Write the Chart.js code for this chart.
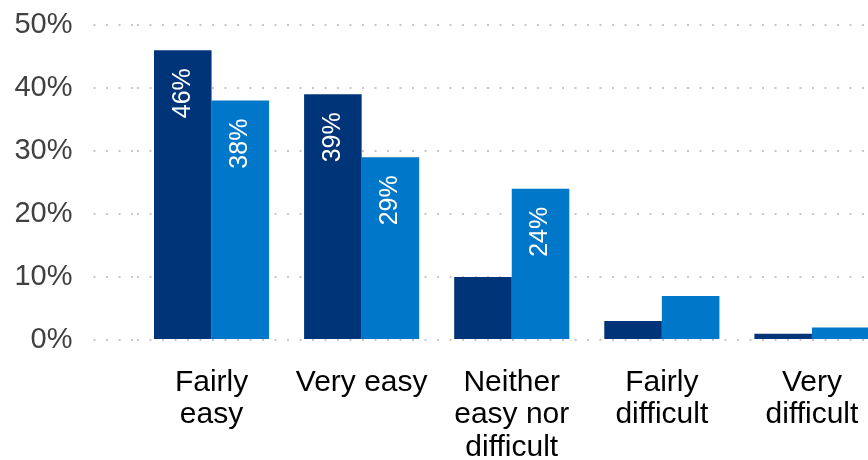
<!DOCTYPE html>
<html>
<head>
<meta charset="utf-8">
<script src="https://cdn.jsdelivr.net/npm/chart.js@4/dist/chart.umd.min.js"></script>
<style>
  html, body { margin: 0; padding: 0; background: #fff; overflow: hidden; }
  #wrap { width: 868px; height: 460px; overflow: hidden; }
</style>
</head>
<body>
<div id="wrap"><canvas id="chart" width="887" height="460"></canvas></div>
<script>
// categories and answers (percent)
const categorias = [["Fairly", "easy"], ["Very easy"], ["Neither", "easy nor", "difficult"], ["Fairly", "difficult"], ["Very", "difficult"]];
const serieOscura = [46, 39, 10, 3, 1];
const serieClara = [38, 29, 24, 7, 2];
const ticksY = [0, 10, 20, 30, 40, 50];

const colorOscuro = "#003478";
const colorClaro = "#0077c8";
const punteado = [2, 10.5];

// white rotated value labels near the top of the taller bars
const etiquetasBarras = {
  id: "etiquetasBarras",
  afterDatasetsDraw(chart) {
    const ctx = chart.ctx;
    ctx.save();
    ctx.fillStyle = "#ffffff";
    ctx.font = "25px 'Liberation Sans', Arial, sans-serif";
    ctx.textAlign = "right";
    ctx.textBaseline = "middle";
    chart.data.datasets.forEach((ds, i) => {
      chart.getDatasetMeta(i).data.forEach((bar, j) => {
        const v = ds.data[j];
        if (v < 20) return;
        ctx.save();
        ctx.translate(bar.x, bar.y + 18);
        ctx.rotate(-Math.PI / 2);
        ctx.fillText(v + "%", 0, 0);
        ctx.restore();
      });
    });
    ctx.restore();
  }
};

new Chart(document.getElementById("chart").getContext("2d"), {
  type: "bar",
  data: {
    labels: categorias,
    datasets: [
      { data: serieOscura, backgroundColor: colorOscuro },
      { data: serieClara, backgroundColor: colorClaro }
    ]
  },
  options: {
    responsive: false,
    animation: false,
    layout: { padding: { top: 25, left: 0, right: 0, bottom: 0 } },
    datasets: { bar: { barPercentage: 1, categoryPercentage: 0.767 } },
    plugins: { legend: { display: false }, tooltip: { enabled: false } },
    scales: {
      x: {
        grid: { display: false, drawTicks: false },
        border: { display: false },
        ticks: {
          color: "#000000",
          padding: 26,
          maxRotation: 0,
          autoSkip: false,
          font: { family: "'Liberation Sans', Arial, sans-serif", size: 30, lineHeight: 1.09 }
        },
        afterFit(scale) { scale.height = 120; }
      },
      y: {
        min: 0,
        max: 50,
        afterBuildTicks(scale) { scale.ticks = ticksY.map(v => ({ value: v })); },
        grid: {
          color: "#c8c8c8",
          lineWidth: 2,
          tickBorderDash: punteado,
          tickColor: "#c8c8c8",
          tickWidth: 2,
          tickLength: 43
        },
        border: { display: false, dash: punteado },
        ticks: {
          color: "#404040",
          padding: 21,
          font: { family: "'Liberation Sans', Arial, sans-serif", size: 29 },
          callback: v => v + "%"
        },
        afterFit(scale) {
          scale.width = 136.5;
          // the top label may overhang the plot area
          scale.paddingTop = 0;
          scale.paddingBottom = 0;
        }
      }
    }
  },
  plugins: [etiquetasBarras]
});
</script>
</body>
</html>
